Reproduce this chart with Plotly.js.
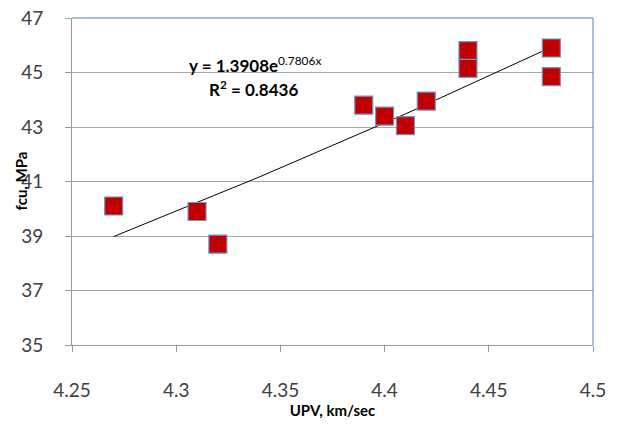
<!DOCTYPE html>
<html><head><meta charset="utf-8">
<script src="https://cdn.plot.ly/plotly-3.0.1.min.js"></script>
<style>html,body{margin:0;padding:0;background:#fff}#c{width:622px;height:431px}</style>
</head><body><div id="c"></div>
<script>
var upv = [4.27, 4.31, 4.32, 4.39, 4.40, 4.41, 4.42, 4.44, 4.44, 4.48, 4.48];
var fcu = [40.1, 39.9, 38.7, 43.8, 43.4, 43.05, 43.95, 45.8, 45.15, 45.9, 44.85];
var trendX = [4.27, 4.34, 4.41, 4.48];
var trendY = [38.98, 41.17, 43.48, 45.93];
var eqMain = "y = 1.3908e";
var eqExp = "0.7806x";
var r2Text = "R<sup>2</sup> = 0.8436";
var xTicks = [4.25, 4.3, 4.35, 4.4, 4.45, 4.5];
var yTicks = [35, 37, 39, 41, 43, 45, 47];

var FONT = "Lato, 'Open Sans', sans-serif";
var data = [
  {x: trendX, y: trendY, mode: 'lines', type: 'scatter',
   line: {color: '#000000', width: 1}, hoverinfo: 'skip'},
  {x: upv, y: fcu, mode: 'markers', type: 'scatter',
   marker: {symbol: 'square', size: 18, color: '#C00000',
            line: {color: '#6F93C8', width: 1.2}}}
];
var layout = {
  width: 622, height: 431,
  margin: {l: 72, r: 29, t: 18, b: 86},
  paper_bgcolor: '#ffffff', plot_bgcolor: '#ffffff',
  showlegend: false,
  font: {family: FONT, color: '#404040'},
  xaxis: {
    range: [4.25, 4.5], tickvals: xTicks, ticktext: xTicks.map(String),
    showgrid: false, zeroline: false,
    showline: true, linecolor: '#9A9A9A', linewidth: 1,
    ticks: 'outside', ticklen: 6, tickcolor: '#9A9A9A',
    tickfont: {size: 19, color: '#404040', family: FONT},
    ticklabelstandoff: 22,
    title: {text: '<b>UPV, km/sec</b>', font: {size: 15, color: '#000000', family: FONT}, standoff: 4}
  },
  yaxis: {
    range: [35, 47], tickvals: yTicks, ticktext: yTicks.map(String),
    showgrid: true, gridcolor: '#A6A6A6', gridwidth: 1,
    zeroline: false,
    showline: true, linecolor: '#9A9A9A', linewidth: 1,
    ticks: 'outside', ticklen: 6, tickcolor: '#9A9A9A',
    tickfont: {size: 19, color: '#404040', family: FONT},
    ticklabelstandoff: 18
  },
  shapes: [
    {type: 'line', xref: 'paper', yref: 'paper', x0: 0, x1: 1, y0: 1, y1: 1,
     line: {color: '#4F81BD', width: 1}},
    {type: 'line', xref: 'paper', yref: 'paper', x0: 1, x1: 1, y0: 0, y1: 1,
     line: {color: '#4F81BD', width: 1}}
  ],
  annotations: [
    {x: 0, y: 0.5, xref: 'paper', yref: 'paper', xanchor: 'center', yanchor: 'middle',
     xshift: -52, textangle: -90,
     text: '<b>fcu, MPa</b>', showarrow: false,
     font: {size: 15, color: '#000000', family: FONT}},
    {x: 4.338, y: 45.3, xref: 'x', yref: 'y',
     text: '<b>' + eqMain + '</b><sup>' + eqExp + '</sup>', showarrow: false,
     font: {size: 17, color: '#000000', family: FONT}},
    {x: 4.337, y: 44.42, xref: 'x', yref: 'y', text: '<b>' + r2Text + '</b>', showarrow: false,
     font: {size: 17, color: '#000000', family: FONT}}
  ]
};
Plotly.newPlot('c', data, layout, {displayModeBar: false, staticPlot: true});
</script></body></html>
